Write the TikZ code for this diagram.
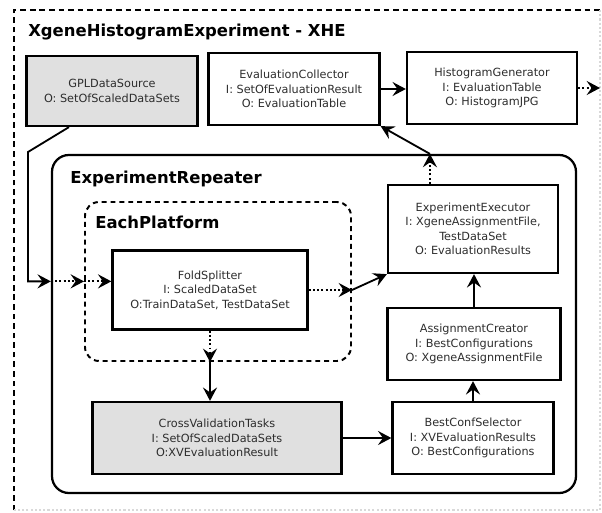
\documentclass[tikz,border=0pt]{standalone}
\usepackage{fontspec}
\setmainfont{DejaVu Sans}
\usetikzlibrary{arrows.meta,positioning,fit,calc}

\definecolor{boxgray}{RGB}{224,224,224}
\definecolor{textgray}{RGB}{45,45,45}

\begin{document}
\begin{tikzpicture}[
      x=0.025cm, y=-0.025cm,
      box/.style = {
        draw,
        line width=1.6pt,
        align=center,
        text=textgray,
        minimum width=4.25cm,
        minimum height=1.8cm,
        font=\fontsize{8}{10.3}\selectfont
      },
      grey/.style = {
        box,
        fill=boxgray
      },
      group/.style = {
        draw,
        line width=1.6pt,
        rounded corners=12pt,
        inner sep=0pt
      },
      title/.style = {
        anchor=west,
        inner sep=0pt,
        font=\bfseries\fontsize{11.7}{13}\selectfont
      },
      arc/.style = {
        ->,
        >={Stealth[length=9.5pt,width=10pt,inset=3.5pt]},
        line width=1.3pt
      },
      dots/.style = {
        arc,
        dash pattern=on 1.4pt off 1.6pt
      }
    ]
    \clip (0,0) rectangle (602,512);

    \draw[line width=1.4pt, dash pattern=on 4pt off 2.8pt] (14,520) |- (610,10);
    \draw[gray!30, line width=0.8pt, dash pattern=on 1.5pt off 1.5pt] (600,10) |- (14,510);
    \node[title] (xhetitle) at (28,32) {XgeneHistogramExperiment - XHE};

    \node[group, fit={(52,155) (576,493)}] (rep) {};
    \node[title] (reptitle) at (70,179) {ExperimentRepeater};
    \node[group, rounded corners=10pt, line width=1.4pt, dash pattern=on 3.5pt off 2.8pt,
      fit={(85,202) (351,361)}] (plat) {};
    \node[title] (plattitle) at (95,222) {EachPlatform};

    \node[grey, minimum width=4.275cm, minimum height=1.75cm] (gpl) at (112,91)
      {GPLDataSource\\O: SetOfScaledDataSets};
    \node[box, minimum width=4.275cm] (coll) at (294,89)
      {EvaluationCollector\\I: SetOfEvaluationResult\\O: EvaluationTable};
    \node[box] (hist) at (492,88)
      {HistogramGenerator\\I: EvaluationTable\\O: HistogramJPG};
    \node[box, minimum width=4.875cm, minimum height=1.975cm] (fold) at (210,290)
      {FoldSplitter\\I: ScaledDataSet\\O:TrainDataSet, TestDataSet};
    \node[grey, minimum width=6.225cm] (cvt) at (217,438)
      {CrossValidationTasks\\I: SetOfScaledDataSets\\O:XVEvaluationResult};
    \node[box, minimum height=2.2cm] (exe) at (473,229)
      {ExperimentExecutor\\I: XgeneAssignmentFile,\\TestDataSet\\O: EvaluationResults};
    \node[box, minimum width=4.325cm] (asg) at (474,344)
      {AssignmentCreator\\I: BestConfigurations\\O: XgeneAssignmentFile};
    \node[box, minimum width=4.025cm] (best) at (473,438)
      {BestConfSelector\\I: XVEvaluationResults\\O: BestConfigurations};

    \coordinate (gplbend) at (28,152);
    \draw[arc] (gpl.220) -- (gplbend) |- (rep.west |- fold.175);
    \draw[dots] (rep.west |- fold.175) -- (plat.west |- fold.175);
    \draw[dots] (plat.west |- fold.175) -- (fold.175);

    \draw[dots] (fold.south) -- (fold.south |- plat.south);
    \draw[arc] (fold.south |- plat.south) -- (fold.south |- cvt.north);

    \draw[dots] (fold.east) -- (plat.east |- fold.east);
    \draw[arc] (plat.east |- fold.east) -- (exe.south west);

    \draw[arc] (cvt.east) -- (best.west);
    \draw[arc] (best.north) -- (best.north |- asg.south);
    \draw[arc] (asg.north) -- (asg.north |- exe.south);

    \coordinate (exeout) at ($(exe.north west)!0.25!(exe.north east)$);
    \draw[dots] (exeout) -- (exeout |- rep.north);
    \draw[arc] (exeout |- rep.north) -- (coll.south east);

    \draw[arc] (coll.east) -- (coll.east -| hist.west);
    \coordinate (histout) at (600,88);
    \draw[dots] (hist.east) -- (histout);
  \end{tikzpicture}
\end{document}
